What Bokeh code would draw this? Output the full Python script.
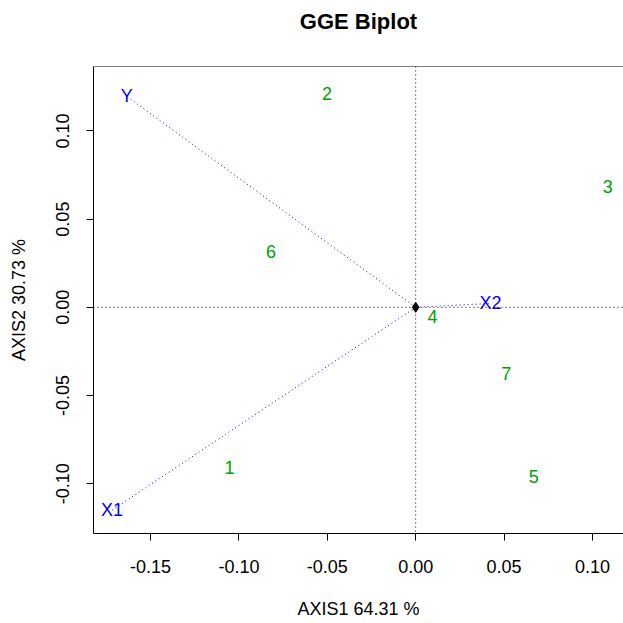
from bokeh.plotting import figure
from bokeh.models import ColumnDataSource, Span, FixedTicker, NumeralTickFormatter, Range1d, Title
from bokeh.core.properties import value
from bokeh.embed import file_html
from bokeh.resources import INLINE

# Genotype (entry) scores
gen_labels = ["1", "2", "3", "4", "5", "6", "7"]
gen_x = [-0.1053, -0.0502, 0.1087, 0.0095, 0.0668, -0.0819, 0.0513]
gen_y = [-0.0909, 0.1212, 0.0682, -0.0054, -0.0958, 0.0319, -0.0376]

# Tester (environment) scores
env_labels = ["Y", "X1", "X2"]
env_x = [-0.1635, -0.1718, 0.0423]
env_y = [0.1196, -0.1150, 0.0022]

origin = [0.0, 0.0]

x_ticks = [-0.15, -0.10, -0.05, 0.00, 0.05, 0.10]
y_ticks = [-0.10, -0.05, 0.00, 0.05, 0.10]

title_text = "GGE Biplot"
x_label = "AXIS1 64.31 %"
y_label = "AXIS2 30.73 %"

FONT = "Liberation Sans"
GREEN = "#00a000"
BLUE = "#0000ff"

p = figure(width=623, height=623, output_backend="svg", toolbar_location=None,
           x_range=Range1d(-0.1823, 0.1176), y_range=Range1d(-0.1282, 0.1365),
           min_border_left=93, min_border_right=0, min_border_top=66, min_border_bottom=90,
           title=title_text)
p.background_fill_color = "white"
p.border_fill_color = "white"
p.outline_line_color = None
p.grid.visible = False

p.title.align = "center"
p.title.text_font = FONT
p.title.text_font_size = "22px"
p.title.text_font_style = "bold"
p.title.text_color = "black"
p.title.standoff = 10

# blank spacer between the box and the title
p.add_layout(Title(text=" ", text_font=FONT, text_font_size="22px", standoff=1), "above")

for ax, ticks in ((p.xaxis, x_ticks), (p.yaxis, y_ticks)):
    ax.ticker = FixedTicker(ticks=ticks)
    ax.formatter = NumeralTickFormatter(format="0.00")
    ax.minor_tick_line_color = None
    ax.major_tick_in = 0
    ax.major_tick_out = 7
    ax.major_tick_line_color = "black"
    ax.axis_line_color = "black"
    ax.major_label_text_font = FONT
    ax.major_label_text_font_size = "18px"
    ax.major_label_text_color = "black"
    ax.axis_label_text_font = FONT
    ax.axis_label_text_font_size = "18px"
    ax.axis_label_text_font_style = "normal"
    ax.axis_label_text_color = "black"

p.xaxis.axis_label = x_label
p.yaxis.axis_label = y_label
p.yaxis.major_label_orientation = "vertical"
p.xaxis.major_label_standoff = 19
p.yaxis.major_label_standoff = 17
p.xaxis.axis_label_standoff = 23
p.yaxis.axis_label_standoff = 25

# top border of the box
p.add_layout(Span(location=p.y_range.end, dimension="width", line_color="black", line_width=1))

# reference dotted lines through origin
p.add_layout(Span(location=origin[0], dimension="height", line_color="black", line_dash="1 3", line_width=1))
p.add_layout(Span(location=origin[1], dimension="width", line_color="black", line_dash="1 3", line_width=1))

# tester vectors
env_src = ColumnDataSource(dict(x0=[origin[0]] * len(env_x), y0=[origin[1]] * len(env_y),
                                x=env_x, y=env_y, label=env_labels))
p.segment(x0="x0", y0="y0", x1="x", y1="y", source=env_src, line_color=BLUE,
          line_dash="1 3", line_width=1)

p.scatter(x=[origin[0]], y=[origin[1]], marker="diamond", size=10, color="black")

p.text(x="x", y="y", text="label", source=env_src, text_color=BLUE,
       text_font=value(FONT), text_font_size="18px", text_align="center", text_baseline="middle")

gen_src = ColumnDataSource(dict(x=gen_x, y=gen_y, label=gen_labels))
p.text(x="x", y="y", text="label", source=gen_src, text_color=GREEN,
       text_font=value(FONT), text_font_size="18px", text_align="center", text_baseline="middle")

open("out.html", "w").write(file_html(p, INLINE))
